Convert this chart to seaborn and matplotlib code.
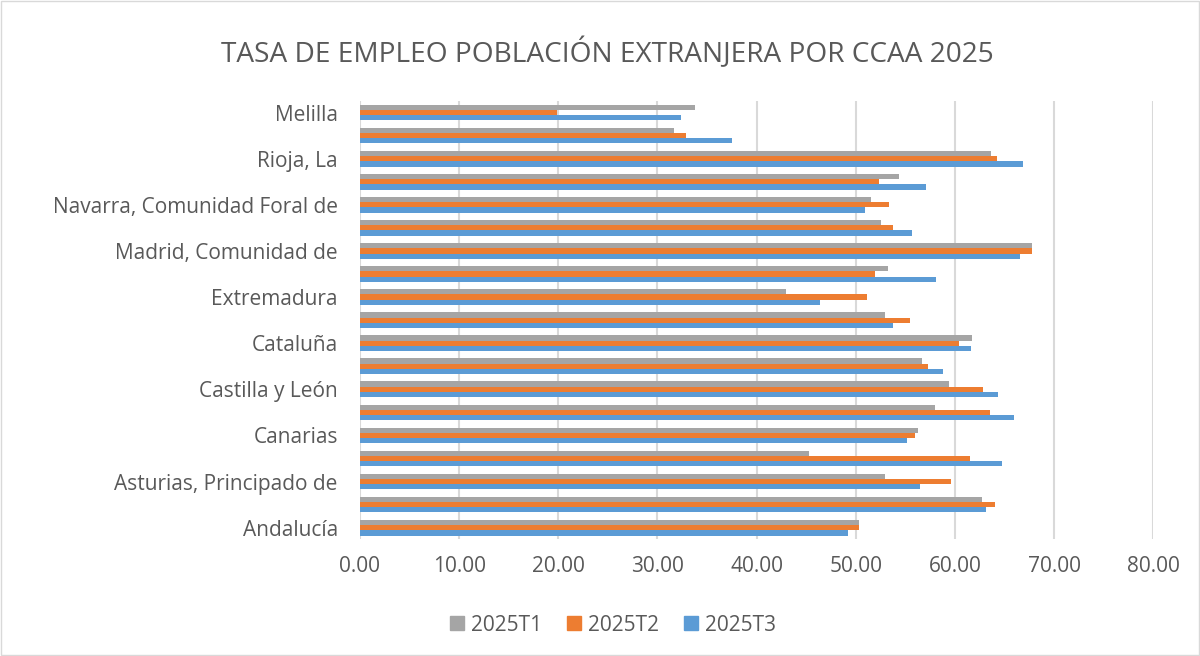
import matplotlib
matplotlib.use("Agg")
import matplotlib.pyplot as plt
import seaborn as sns
import pandas as pd
from matplotlib.patches import Rectangle

# Categories listed top to bottom (as displayed)
regions = [
    "Melilla", "Ceuta", "Rioja, La", "País Vasco", "Navarra, Comunidad Foral de",
    "Murcia, Región de", "Madrid, Comunidad de", "Galicia", "Extremadura",
    "Comunitat Valenciana", "Cataluña", "Castilla - La Mancha", "Castilla y León",
    "Cantabria", "Canarias", "Balears, Illes", "Asturias, Principado de",
    "Aragón", "Andalucía",
]
t1 = [33.8, 31.7, 63.6, 54.4, 51.5, 52.5, 67.8, 53.3, 43.0, 53.0, 61.7, 56.7,
      59.4, 58.0, 56.3, 45.3, 52.9, 62.7, 50.3]
t2 = [19.9, 32.9, 64.2, 52.3, 53.4, 53.8, 67.8, 51.9, 51.1, 55.5, 60.4, 57.3,
      62.8, 63.5, 56.0, 61.5, 59.6, 64.0, 50.3]
t3 = [32.4, 37.5, 66.9, 57.1, 50.9, 55.7, 66.6, 58.1, 46.4, 53.8, 61.6, 58.8,
      64.3, 66.0, 55.2, 64.8, 56.5, 63.1, 49.2]
series = ["2025T1", "2025T2", "2025T3"]
colors = ["#A5A5A5", "#ED7D31", "#5B9BD5"]
xticks = [0, 10, 20, 30, 40, 50, 60, 70, 80]
title = "TASA DE EMPLEO POBLACIÓN EXTRANJERA POR CCAA 2025"

df = pd.DataFrame({
    "region": regions * 3,
    "serie": [s for s in series for _ in regions],
    "valor": t1 + t2 + t3,
})

sns.set_theme(style="white")
plt.rcParams["font.family"] = ["Open Sans", "DejaVu Sans"]
txt = "#595959"

fig = plt.figure(figsize=(12, 6.56), dpi=100)
ax = fig.add_axes([0.30, 0.178, 0.661, 0.668])

sns.barplot(data=df, y="region", x="valor", hue="serie", order=regions,
            hue_order=series, palette=colors, orient="h", width=0.68,
            saturation=1, ax=ax, legend=False, linewidth=0)

ax.set_xlim(0, 80)
ax.set_ylim(len(regions) - 0.5, -0.5)
ax.set_xticks(xticks)
ax.set_xticklabels([f"{v:.2f}" for v in xticks], fontsize=15, color=txt)
labels = [r if i % 2 == 0 else "" for i, r in enumerate(regions)]
ax.set_yticks(range(len(regions)))
ax.set_yticklabels(labels, fontsize=15, color=txt)
ax.tick_params(axis="x", length=0, pad=12)
ax.tick_params(axis="y", length=0, pad=16)
ax.set_xlabel("")
ax.set_ylabel("")
ax.grid(axis="x", color="#D9D9D9", linewidth=1.5)
ax.set_axisbelow(True)
for s in ax.spines.values():
    s.set_visible(False)

fig.suptitle(title, x=0.506, y=0.943, fontsize=20.2, color=txt)

handles = [Rectangle((0, 0), 1, 1, color=c) for c in colors]
fig.legend(handles, series, loc="center", bbox_to_anchor=(0.511, 0.047), ncol=3,
           frameon=False, fontsize=15, labelcolor=txt, handlelength=0.65,
           handleheight=0.65, handletextpad=0.35, columnspacing=1.2)

fig.patches.append(Rectangle((0.001, 0.001), 0.998, 0.998, transform=fig.transFigure,
                             fill=False, edgecolor="#D9D9D9", linewidth=1))

fig.savefig("out.png", dpi=100)
